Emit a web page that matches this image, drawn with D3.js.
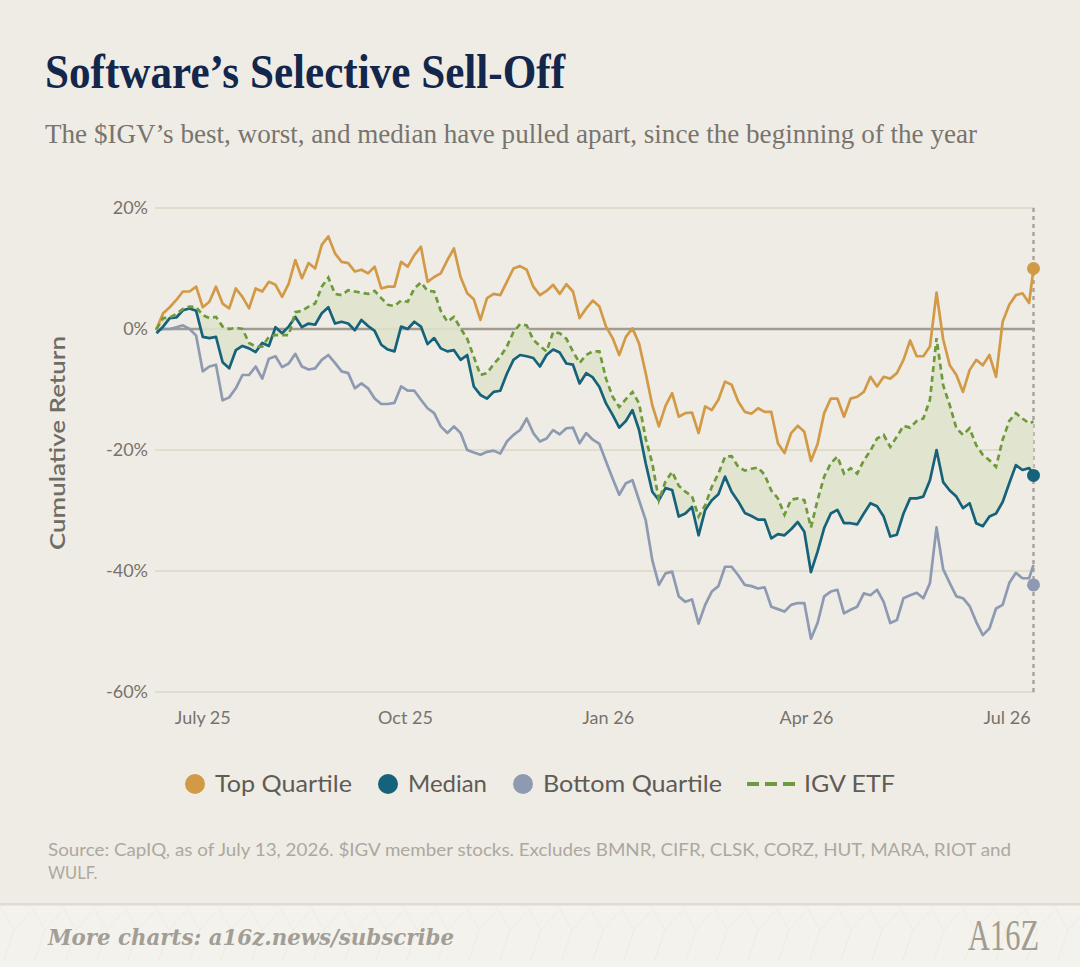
<!DOCTYPE html>
<html>
<head>
<meta charset="utf-8">
<script src="https://cdn.jsdelivr.net/npm/d3@7"></script>
<style>
  html, body { margin: 0; padding: 0; background: #efece5; }
  svg { display: block; }
</style>
</head>
<body>
<svg id="chart" width="1080" height="967"></svg>
<script>
// ---------- DATA ----------
const startDate = new Date(2025, 5, 10);
const dates = d3.timeDay.range(startDate, new Date(2026, 6, 12), 3);
dates.push(new Date(2026, 6, 13));

const topQuartile = [
  0.0, 2.6, 3.6, 4.8, 6.2, 6.2, 7.0, 3.6, 4.5, 7.0,
  4.2, 3.4, 6.7, 5.3, 3.4, 6.7, 6.2, 7.8, 7.3, 5.3,
  7.5, 11.4, 8.4, 10.9, 10.0, 13.9, 15.3, 12.5, 11.1, 10.9,
  9.5, 9.8, 9.2, 10.3, 6.7, 7.0, 7.0, 11.1, 10.3, 12.2,
  13.6, 7.8, 8.6, 9.2, 11.4, 13.3, 8.6, 5.9, 4.9, 1.5,
  5.1, 5.8, 5.6, 7.8, 10.0, 10.4, 9.8, 7.0, 5.6, 6.3,
  7.3, 5.8, 7.4, 6.2, 1.8, 3.4, 4.7, 3.7, 0.4, -1.5,
  -4.3, -1.3, 0.1, -2.4, -7.3, -12.6, -16.1, -12.7, -10.6, -14.5,
  -13.9, -13.8, -17.2, -12.8, -13.4, -11.7, -8.7, -9.2, -12.0, -13.7,
  -14.0, -13.1, -13.7, -13.7, -18.9, -20.5, -17.2, -16.0, -17.0, -21.8,
  -19.0, -13.9, -11.5, -11.5, -14.5, -11.5, -11.2, -10.4, -7.9, -9.5,
  -7.9, -8.2, -7.3, -5.1, -1.9, -4.5, -4.5, -2.9, 6.0, -1.7,
  -6.0, -7.6, -10.4, -6.8, -5.1, -6.0, -4.3, -7.9, 1.2, 4.0,
  5.6, 5.9, 4.3, 10.0
];
const median = [
  -0.7, 0.4, 1.8, 1.9, 3.1, 3.4, 3.0, -1.3, -1.5, -1.3,
  -5.5, -6.5, -3.5, -2.8, -3.2, -3.8, -2.3, -2.8, 0.3, -0.7,
  0.4, 2.0, 0.3, 0.9, 0.7, 2.6, 3.6, 0.9, 1.2, 0.9,
  -0.2, 1.5, 0.5, -0.3, -2.6, -3.4, -3.7, 0.4, 0.0, 1.2,
  0.4, -2.5, -1.5, -3.2, -3.7, -3.5, -5.1, -4.3, -9.5, -10.9,
  -11.5, -10.4, -10.2, -7.4, -5.1, -4.3, -4.5, -4.8, -6.2, -4.3,
  -3.4, -3.9, -5.7, -5.9, -9.0, -7.3, -8.0, -9.6, -12.3, -14.2,
  -16.3, -15.2, -13.4, -16.7, -22.2, -26.9, -28.3, -26.3, -26.6, -31.0,
  -30.5, -29.4, -34.1, -29.9, -28.3, -27.3, -24.4, -26.9, -28.5, -30.4,
  -30.9, -31.5, -31.5, -34.6, -33.9, -34.1, -33.1, -31.9, -33.5, -40.2,
  -36.8, -32.9, -30.5, -29.9, -32.1, -32.1, -32.3, -30.5, -28.8, -29.3,
  -31.0, -34.3, -34.0, -30.5, -28.0, -28.0, -27.7, -25.0, -20.0, -25.3,
  -26.7, -27.7, -29.6, -28.8, -32.1, -32.6, -31.0, -30.5, -28.6, -25.5,
  -22.5, -23.3, -23.0, -24.0
];
const bottomQuartile = [
  -0.3, 0.0, 0.0, 0.3, 0.6, 0.0, -1.1, -7.0, -6.2, -5.9,
  -11.8, -11.3, -9.8, -7.6, -7.6, -6.2, -8.2, -4.9, -4.5, -6.3,
  -5.7, -4.1, -6.2, -6.7, -6.5, -5.1, -4.3, -5.6, -7.0, -7.3,
  -9.8, -9.0, -9.8, -11.5, -12.4, -12.4, -12.2, -9.5, -10.2, -10.2,
  -11.7, -13.1, -13.9, -16.1, -17.2, -16.1, -17.2, -20.0, -20.4, -20.8,
  -20.3, -20.1, -20.6, -18.6, -17.5, -16.7, -14.8, -17.2, -18.6, -18.1,
  -16.7, -17.4, -16.4, -16.3, -18.9, -17.2, -18.3, -19.0, -21.9, -24.7,
  -27.4, -25.5, -25.0, -28.3, -31.6, -38.2, -42.3, -40.4, -40.1, -44.2,
  -45.1, -44.7, -48.7, -45.6, -43.4, -42.5, -39.3, -39.3, -40.7, -42.3,
  -42.5, -42.9, -42.7, -45.9, -46.3, -46.7, -45.6, -45.3, -45.3, -51.2,
  -48.6, -44.2, -43.4, -43.1, -47.0, -46.4, -45.9, -43.7, -44.0, -43.1,
  -45.1, -48.6, -48.1, -44.5, -44.0, -43.6, -44.5, -42.0, -32.8, -39.7,
  -42.0, -44.2, -44.5, -45.8, -48.4, -50.6, -49.5, -46.2, -45.6, -42.0,
  -40.3, -41.2, -41.2, -39.0
];
const igvEtf = [
  0.0, 1.8, 1.9, 2.5, 3.3, 3.7, 3.6, 2.3, 1.8, 2.0,
  0.4, 0.0, 0.2, 0.0, -2.3, -2.9, -2.9, -1.3, -1.0, -1.0,
  -1.0, 2.8, 3.0, 3.7, 4.2, 7.0, 8.5, 5.8, 5.6, 6.4,
  6.2, 6.0, 5.8, 6.3, 5.1, 4.0, 3.8, 4.7, 4.5, 6.7,
  7.7, 6.3, 6.2, 3.0, 1.2, 2.0, 0.1, -1.6, -4.6, -7.6,
  -7.3, -5.8, -4.6, -2.9, -0.5, 0.8, 0.6, -1.8, -2.8, -3.7,
  -0.5, -0.7, -1.6, -3.7, -5.6, -4.3, -3.7, -3.7, -8.2, -11.2,
  -12.9, -11.6, -10.4, -12.3, -18.1, -22.2, -28.3, -25.2, -23.6, -25.9,
  -26.9, -27.6, -31.0, -29.1, -26.1, -23.9, -21.1, -21.0, -22.8, -23.4,
  -23.1, -22.9, -24.1, -26.7, -28.0, -30.7, -28.2, -28.0, -28.3, -32.8,
  -28.3, -24.4, -22.2, -21.1, -23.9, -23.0, -23.9, -21.7, -20.1, -18.1,
  -17.5, -19.5, -17.8, -16.0, -16.3, -15.2, -14.8, -11.7, -1.5, -9.3,
  -12.6, -16.4, -17.5, -16.4, -19.2, -20.8, -21.7, -22.8, -18.3, -15.2,
  -13.9, -14.8, -15.6, -15.3
];
// end-of-period markers: top, median, bottom
const endValues = [10.0, -24.2, -42.3];

const yTicks = [20, 0, -20, -40, -60];
const xTickDates = [new Date(2025, 6, 1), new Date(2025, 9, 1), new Date(2026, 0, 1), new Date(2026, 3, 1), new Date(2026, 6, 1)];
const xTickLabels = ["July 25", "Oct 25", "Jan 26", "Apr 26", "Jul 26"];
const legendLabels = ["Top Quartile", "Median", "Bottom Quartile", "IGV ETF"];

// ---------- STYLE ----------
const C = {
  bg: "#efece5",
  top: "#d29a46",
  med: "#15627a",
  bot: "#8e9ab2",
  igv: "#6f9a3c",
  fill: "#dfe4cc",
  grid: "#dad8c4",
  zero: "#a29c90",
  title: "#13264b",
  sub: "#6f6b65",
  tick: "#77736c",
  legend: "#5f5b55",
  source: "#aca89f",
  footer: "#a29e95"
};

const svg = d3.select("#chart");
svg.append("rect").attr("width", 1080).attr("height", 967).attr("fill", C.bg);

// footer band
svg.append("rect").attr("x", 0).attr("y", 904).attr("width", 1080).attr("height", 63).attr("fill", "#f4f2ed");
svg.append("rect").attr("x", 0).attr("y", 903).attr("width", 1080).attr("height", 2.5).attr("fill", "#dedacf");
const pat = svg.append("g").attr("stroke", "#ebe8df").attr("stroke-width", 0.7).attr("fill", "none");
for (let i = 0; i < 36; i++) {
  const x0 = i * 31;
  pat.append("path").attr("d", `M${x0},906 L${x0 + 14},930 L${x0 + 4},960 M${x0 + 14},930 L${x0 + 30},912`);
}

// title
svg.append("text").attr("x", 45).attr("y", 88)
  .attr("font-family", "'Liberation Serif', 'DejaVu Serif', serif")
  .attr("font-weight", "bold").attr("font-size", 48).attr("fill", C.title)
  .attr("textLength", 520).attr("lengthAdjust", "spacingAndGlyphs")
  .text("Software\u2019s Selective Sell-Off");

svg.append("text").attr("x", 45).attr("y", 143)
  .attr("font-family", "'Liberation Serif', 'DejaVu Serif', serif")
  .attr("font-size", 27.5).attr("fill", "#78746e")
  .attr("textLength", 932).attr("lengthAdjust", "spacingAndGlyphs")
  .text("The $IGV\u2019s best, worst, and median have pulled apart, since the beginning of the year");

// scales
const x = d3.scaleTime().domain([startDate, new Date(2026, 6, 13)]).range([156.5, 1033.5]);
const y = d3.scaleLinear().domain([-60, 20]).range([692, 208]);

// grid
const g = svg.append("g");
g.selectAll("line.grid").data(yTicks.filter(d => d !== 0)).join("line")
  .attr("x1", 155).attr("x2", 1035)
  .attr("y1", d => y(d)).attr("y2", d => y(d))
  .attr("stroke", C.grid).attr("stroke-width", 1.6);

g.selectAll("text.ytick").data(yTicks).join("text")
  .attr("x", 148).attr("y", d => y(d) + 6)
  .attr("text-anchor", "end")
  .attr("font-family", "Lato, 'Open Sans', sans-serif").attr("font-size", 18)
  .attr("fill", C.tick)
  .text(d => d + "%");

g.selectAll("text.xtick").data(xTickDates).join("text")
  .attr("x", d => x(d)).attr("y", 724)
  .attr("text-anchor", "middle")
  .attr("font-family", "Lato, 'Open Sans', sans-serif").attr("font-size", 18)
  .attr("fill", C.tick)
  .text((d, i) => xTickLabels[i]);

// y axis title
svg.append("text")
  .attr("transform", "translate(65,443) rotate(-90)")
  .attr("text-anchor", "middle")
  .attr("font-family", "Lato, 'Open Sans', sans-serif").attr("font-size", 21)
  .attr("font-weight", 600).attr("fill", C.sub)
  .attr("textLength", 214).attr("lengthAdjust", "spacingAndGlyphs")
  .text("Cumulative Return");

// zero line
g.append("line").attr("x1", 155).attr("x2", 1035)
  .attr("y1", y(0)).attr("y2", y(0))
  .attr("stroke", C.zero).attr("stroke-width", 2.6);

// right dotted marker line
g.append("line").attr("x1", x(dates[dates.length - 1])).attr("x2", x(dates[dates.length - 1]))
  .attr("y1", y(20)).attr("y2", y(-60))
  .attr("stroke", "#a8a297").attr("stroke-width", 2.4).attr("stroke-dasharray", "4,4");

// area between IGV and median
const idx = d3.range(dates.length);
const area = d3.area()
  .x(i => x(dates[i]))
  .y0(i => y(median[i]))
  .y1(i => y(igvEtf[i]));
g.append("path").datum(idx).attr("d", area)
  .attr("fill", C.fill).attr("opacity", 0.9);

const lineOf = arr => d3.line().x(i => x(dates[i])).y(i => y(arr[i]))(idx);

g.append("path").attr("d", lineOf(bottomQuartile)).attr("fill", "none")
  .attr("stroke", C.bot).attr("stroke-width", 2.7).attr("stroke-linejoin", "round");
g.append("path").attr("d", lineOf(topQuartile)).attr("fill", "none")
  .attr("stroke", C.top).attr("stroke-width", 2.7).attr("stroke-linejoin", "round");
g.append("path").attr("d", lineOf(median)).attr("fill", "none")
  .attr("stroke", C.med).attr("stroke-width", 2.7).attr("stroke-linejoin", "round");
g.append("path").attr("d", lineOf(igvEtf)).attr("fill", "none")
  .attr("stroke", C.igv).attr("stroke-width", 2.7).attr("stroke-dasharray", "6,4");

// end dots
const dotColors = [C.top, C.med, C.bot];
g.selectAll("circle.end").data(endValues).join("circle")
  .attr("cx", x(dates[dates.length - 1]))
  .attr("cy", d => y(d))
  .attr("r", 6.5)
  .attr("fill", (d, i) => dotColors[i]);

// legend
const legendX = [195, 388, 523];
const legendTextX = [215, 408, 543, 804];
const legendTextW = [137, 79, 179, 91];
const leg = svg.append("g");
leg.selectAll("circle").data(legendX).join("circle")
  .attr("cx", d => d).attr("cy", 784).attr("r", 10)
  .attr("fill", (d, i) => dotColors[i]);
leg.append("line").attr("x1", 747).attr("x2", 795).attr("y1", 784).attr("y2", 784)
  .attr("stroke", C.igv).attr("stroke-width", 4).attr("stroke-dasharray", "12,6");
leg.selectAll("text").data(legendLabels).join("text")
  .attr("x", (d, i) => legendTextX[i]).attr("y", 792)
  .attr("font-family", "Lato, 'Open Sans', sans-serif").attr("font-size", 23)
  .attr("fill", C.legend)
  .attr("textLength", (d, i) => legendTextW[i]).attr("lengthAdjust", "spacingAndGlyphs")
  .text(d => d);

// source
svg.append("text").attr("x", 48).attr("y", 856)
  .attr("font-family", "Lato, 'Open Sans', sans-serif").attr("font-size", 16.5)
  .attr("fill", C.source)
  .attr("textLength", 963).attr("lengthAdjust", "spacingAndGlyphs")
  .text("Source: CapIQ, as of July 13, 2026. $IGV member stocks. Excludes BMNR, CIFR, CLSK, CORZ, HUT, MARA, RIOT and");
svg.append("text").attr("x", 48).attr("y", 879)
  .attr("font-family", "Lato, 'Open Sans', sans-serif").attr("font-size", 16.5)
  .attr("fill", C.source)
  .text("WULF.");

// footer
svg.append("text").attr("x", 48).attr("y", 945)
  .attr("font-family", "'DejaVu Serif Condensed', 'DejaVu Serif', serif").attr("font-style", "italic")
  .attr("font-weight", 600)
  .attr("font-size", 22).attr("fill", C.footer)
  .attr("textLength", 406).attr("lengthAdjust", "spacingAndGlyphs")
  .text("More charts: a16z.news/subscribe");
svg.append("text").attr("x", 968).attr("y", 950)
  .attr("font-family", "'Liberation Serif', serif").attr("font-size", 44)
  .attr("fill", "#a09c92")
  .attr("textLength", 71).attr("lengthAdjust", "spacingAndGlyphs")
  .text("A16Z");
</script>
</body>
</html>
